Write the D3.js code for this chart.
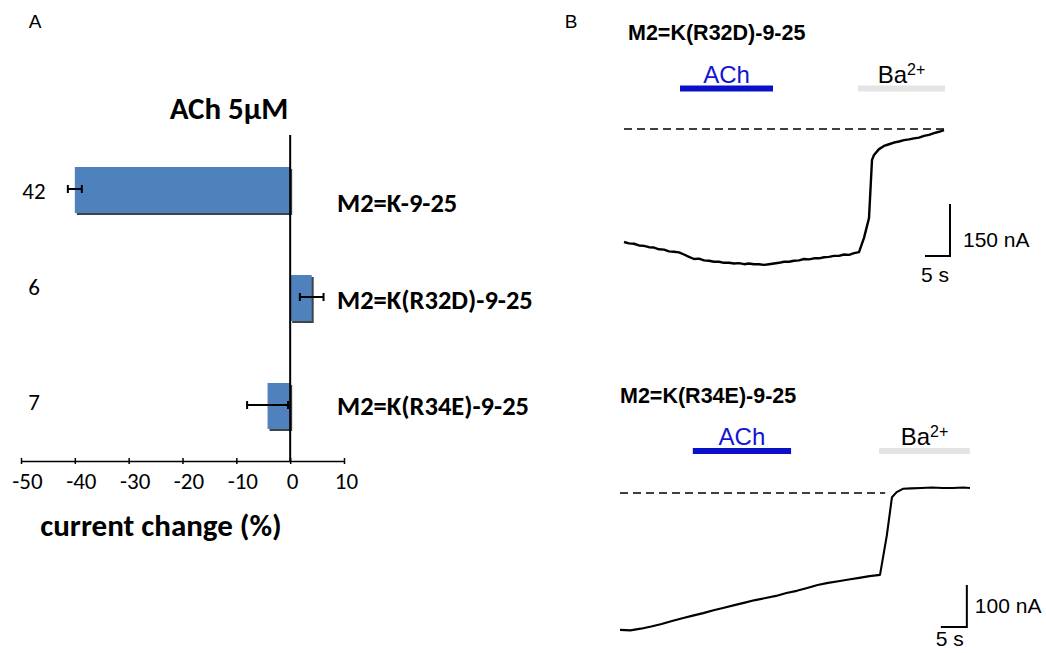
<!DOCTYPE html>
<html>
<head>
<meta charset="utf-8">
<style>
  body { margin: 0; background: #fff; }
  svg { display: block; }
  .cal { font-family: Carlito, Calibri, Lato, sans-serif; }
  .ari { font-family: "Liberation Sans", Arial, sans-serif; }
</style>
</head>
<body>
<svg id="fig" width="1046" height="653"></svg>
<script src="https://d3js.org/d3.v7.min.js"></script>
<script>
'use strict';

// ---- panel A: ACh 5 uM response, % current change ----
var constructs = ['M2=K-9-25', 'M2=K(R32D)-9-25', 'M2=K(R34E)-9-25'];
var nCells = [42, 6, 7];
var meanChange = [-40, 4.0, -4.2];
var semChange = [1.3, 2.2, 3.8];
var xTicks = [-50, -40, -30, -20, -10, 0, 10];

// ---- panel B: example traces (time s, current nA, 0 = Ba2+ level) ----
var r32dTime = [0, 1, 2, 3, 4, 5, 6, 7, 8, 9, 10, 11, 12, 13, 14, 15, 16, 17, 18, 19,
  20, 21, 22, 23, 24, 25, 26, 27, 28, 29, 30, 31, 32, 33, 34, 35, 36, 37, 38, 39,
  40, 41, 42, 43, 44, 45, 46, 47, 48, 49, 49.6, 50, 51, 52, 53, 54, 55, 56, 57, 58,
  59, 60, 61, 62, 63, 64];
var r32dCurrent = [-326, -330, -331, -336, -337, -341, -342, -347, -348, -353, -354, -356, -362, -369, -375, -374, -379, -380, -383, -383,
  -386, -386, -388, -387, -390, -388, -390, -390, -392, -390, -388, -386, -383, -383, -380, -379, -375, -376, -373, -373,
  -370, -369, -366, -366, -362, -363, -358, -355, -314, -257, -89, -75, -58, -49, -44, -39, -36, -32, -30, -27,
  -25, -20, -17, -12, -8, -3];
var r34eTime = [0, 2, 4, 6, 8, 10, 12, 14, 16, 18, 20, 22, 24, 26, 28, 30, 32, 34, 36, 38,
  40, 42, 44, 46, 48, 50, 51.3, 52.3, 53.2, 54.4, 56, 58, 60, 62, 64, 66, 67.3];
var r34eCurrent = [-326, -327, -323, -318, -312, -305, -298, -292, -286, -279, -273, -267, -261, -255, -250, -245, -238, -233, -226, -219,
  -214, -210, -206, -202, -198, -195, -102, -10, 2, 10, 11, 12, 13, 12, 12, 13, 12];

var traceTitles = ['M2=K(R32D)-9-25', 'M2=K(R34E)-9-25'];
var achWindows = [[11.2, 29.8], [14, 32.9]];
var baWindows = [[46.8, 64.2], [49.8, 67.3]];
var barCurrents = [150, 100];   // nA scale bars
var barTime = 5;                // s scale bar

var svg = d3.select('#fig');

// ===================== panel A =====================
var x = d3.scaleLinear().domain([-50, 10]).range([21, 344]);
var y = d3.scaleBand().domain(constructs).range([136, 460])
          .paddingInner(0.574).paddingOuter(0.287);

var rows = constructs.map(function(c, i) {
  return {name: c, n: nCells[i], mean: meanChange[i], sem: semChange[i]};
});
var countNudge = [1, -11, -4];
var nameNudge = [13, 2, 0];

var pa = svg.append('g').attr('class', 'cal');

pa.append('text').attr('x', 35).attr('y', 28).attr('class', 'ari')
  .attr('font-size', 19).attr('text-anchor', 'middle').text('A');

pa.append('text').attr('x', 229).attr('y', 119).attr('text-anchor', 'middle')
  .attr('font-size', 31).attr('font-weight', 'bold').text('ACh 5\u00b5M');

// shadows then bars
pa.selectAll('rect.shadow').data(rows).enter().append('rect')
  .attr('class', 'shadow')
  .attr('x', function(d) { return x(Math.min(0, d.mean)) + 2; })
  .attr('y', function(d) { return y(d.name) + 2; })
  .attr('width', function(d) { return Math.abs(x(d.mean) - x(0)); })
  .attr('height', y.bandwidth())
  .attr('fill', '#222').attr('opacity', 0.85);

pa.selectAll('rect.bar').data(rows).enter().append('rect')
  .attr('class', 'bar')
  .attr('x', function(d) { return x(Math.min(0, d.mean)); })
  .attr('y', function(d) { return y(d.name); })
  .attr('width', function(d) { return Math.abs(x(d.mean) - x(0)); })
  .attr('height', y.bandwidth())
  .attr('fill', '#4f81bd');

// error bars
var eb = pa.selectAll('g.err').data(rows).enter().append('g').attr('class', 'err')
  .attr('stroke', '#000').attr('stroke-width', 2);
function cy(d) { return y(d.name) + y.bandwidth() / 2 - 1; }
eb.append('line')
  .attr('x1', function(d) { return x(d.mean - d.sem); })
  .attr('x2', function(d) { return x(d.mean + d.sem); })
  .attr('y1', cy).attr('y2', cy);
[-1, 1].forEach(function(s) {
  eb.append('line')
    .attr('x1', function(d) { return x(d.mean + s * d.sem); })
    .attr('x2', function(d) { return x(d.mean + s * d.sem); })
    .attr('y1', function(d) { return cy(d) - 4; })
    .attr('y2', function(d) { return cy(d) + 4; });
});

// vertical zero line
pa.append('line').attr('x1', x(0)).attr('x2', x(0)).attr('y1', 135).attr('y2', 461)
  .attr('stroke', '#000').attr('stroke-width', 2);

// x axis
var ax = pa.append('g').attr('transform', 'translate(0,461)')
  .call(d3.axisBottom(x).tickValues(xTicks).tickSizeInner(3).tickSizeOuter(0)
        .tickFormat(function(d) { return String(d); }));
ax.select('.domain').attr('stroke', '#000').attr('stroke-width', 1.5);
ax.selectAll('.tick line').attr('y1', -3).attr('y2', 3).attr('stroke-width', 1.5);
ax.selectAll('.tick text').attr('font-size', 23)
  .attr('fill', '#000').attr('y', 12).attr('dy', '0.71em')
  .attr('dx', function(d) { return d < 0 ? 6 : 2; });
ax.attr('font-family', null).attr('font-size', null);

pa.append('text').attr('x', 161).attr('y', 536).attr('text-anchor', 'middle')
  .attr('font-size', 31).attr('font-weight', 'bold').text('current change (%)');

// n labels and construct names
pa.selectAll('text.n').data(rows).enter().append('text').attr('class', 'n')
  .attr('x', 34).attr('text-anchor', 'middle').attr('font-size', 23)
  .attr('y', function(d, i) { return y(d.name) + y.bandwidth() / 2 + 8 + countNudge[i]; })
  .text(function(d) { return d.n; });
pa.selectAll('text.name').data(rows).enter().append('text').attr('class', 'name')
  .attr('x', 337).attr('font-size', 26.5).attr('font-weight', 'bold')
  .attr('y', function(d, i) { return y(d.name) + y.bandwidth() / 2 + 9 + nameNudge[i]; })
  .text(function(d) { return d.name; });

// ===================== panel B =====================
var pb = svg.append('g').attr('class', 'ari');
pb.append('text').attr('x', 571).attr('y', 28).attr('font-size', 19)
  .attr('text-anchor', 'middle').text('B');

var traces = [
  {time: r32dTime, cur: r32dCurrent, title: traceTitles[0], ach: achWindows[0], ba: baWindows[0],
   sb: barCurrents[0], lw: 2.4,
   tx: d3.scaleLinear().domain([0, 5]).range([624, 649]),
   iy: d3.scaleLinear().domain([0, -150]).range([129, 181]),
   titleXY: [628, 40], drugY: 88.5, dashEnd: 64.2, sbCorner: [65.2, -366],
   sbCurLabel: [13, -9], sbTimeLabel: [-15, 26]},
  {time: r34eTime, cur: r34eCurrent, title: traceTitles[1], ach: achWindows[1], ba: baWindows[1],
   sb: barCurrents[1], lw: 2.1,
   tx: d3.scaleLinear().domain([0, 5]).range([620, 646]),
   iy: d3.scaleLinear().domain([0, -100]).range([493, 535]),
   titleXY: [620, 403], drugY: 451, dashEnd: 51, sbCorner: [66.7, -319],
   sbCurLabel: [8, -14], sbTimeLabel: [-17, 19]}
];

traces.forEach(function(t) {
  var g = pb.append('g');
  g.append('text').attr('x', t.titleXY[0]).attr('y', t.titleXY[1])
    .attr('font-size', 21.5).attr('font-weight', 'bold').text(t.title);

  // drug application bars
  g.append('line').attr('x1', t.tx(t.ach[0])).attr('x2', t.tx(t.ach[1]))
    .attr('y1', t.drugY).attr('y2', t.drugY)
    .attr('stroke', '#0a10c8').attr('stroke-width', 6);
  g.append('text').attr('x', t.tx((t.ach[0] + t.ach[1]) / 2)).attr('y', t.drugY - 6)
    .attr('text-anchor', 'middle').attr('font-size', 24).attr('fill', '#1414d2').text('ACh');
  g.append('line').attr('x1', t.tx(t.ba[0])).attr('x2', t.tx(t.ba[1]))
    .attr('y1', t.drugY).attr('y2', t.drugY)
    .attr('stroke', '#e4e4e4').attr('stroke-width', 6);
  var ba = g.append('text').attr('x', t.tx((t.ba[0] + t.ba[1]) / 2)).attr('y', t.drugY - 6)
    .attr('text-anchor', 'middle').attr('font-size', 24).attr('fill', '#000');
  ba.append('tspan').text('Ba');
  ba.append('tspan').attr('font-size', 16).attr('dy', -8).text('2+');

  // baseline (Ba2+ level)
  g.append('line').attr('x1', t.tx(0)).attr('x2', t.tx(t.dashEnd))
    .attr('y1', t.iy(0)).attr('y2', t.iy(0))
    .attr('stroke', '#000').attr('stroke-width', 1.6).attr('stroke-dasharray', '8,5');

  // current trace
  var pts = t.time.map(function(v, i) { return [v, t.cur[i]]; });
  g.append('path').datum(pts)
    .attr('d', d3.line().x(function(d) { return t.tx(d[0]); }).y(function(d) { return t.iy(d[1]); }))
    .attr('fill', 'none').attr('stroke', '#000').attr('stroke-width', t.lw)
    .attr('stroke-linejoin', 'round');

  // scale bars
  var cx = t.tx(t.sbCorner[0]), cyy = t.iy(t.sbCorner[1]);
  var top = t.iy(t.sbCorner[1] + t.sb), left = t.tx(t.sbCorner[0] - barTime);
  g.append('path').attr('d', 'M' + left + ',' + cyy + 'H' + cx + 'V' + top)
    .attr('fill', 'none').attr('stroke', '#000').attr('stroke-width', 2);
  g.append('text').attr('x', cx + t.sbCurLabel[0]).attr('y', cyy + t.sbCurLabel[1])
    .attr('font-size', 21).text(t.sb + ' nA');
  g.append('text').attr('x', cx + t.sbTimeLabel[0]).attr('y', cyy + t.sbTimeLabel[1])
    .attr('font-size', 21).attr('text-anchor', 'middle').text(barTime + ' s');
});
</script>
</body>
</html>
